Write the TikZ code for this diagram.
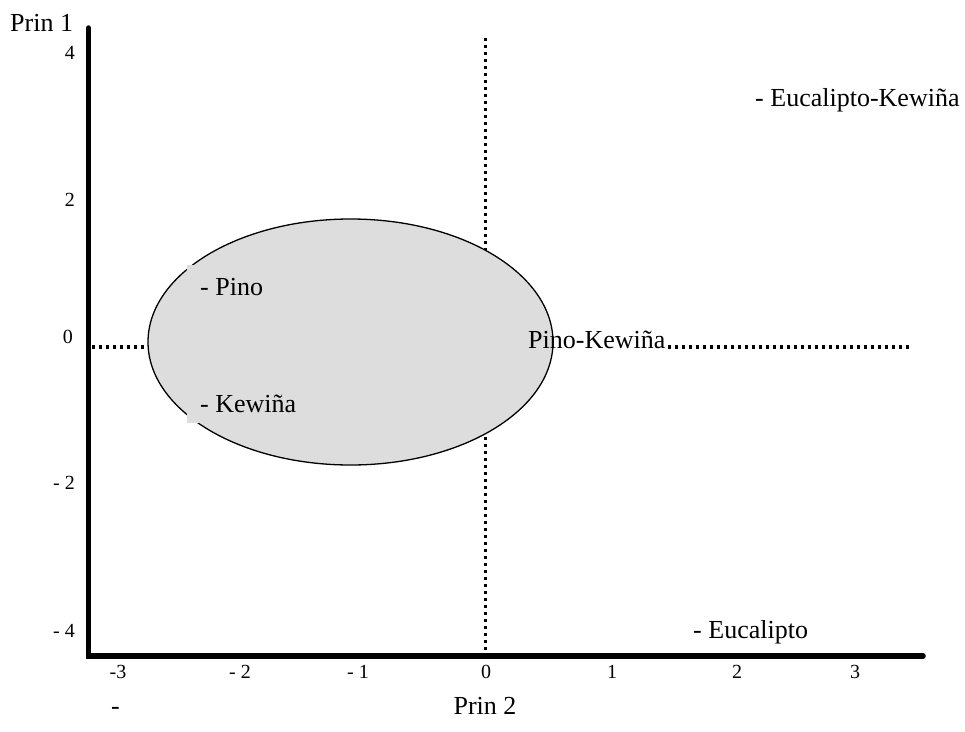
\documentclass[tikz,border=0pt]{standalone}
\usepackage{fontspec}
\setmainfont{Liberation Serif}
\usetikzlibrary{shapes.geometric}
\begin{document}
\begin{tikzpicture}[x=1pt,y=-1pt,
  axisline/.style={line width=5.5pt, line cap=round},
  guide/.style={line width=3.4pt, dash pattern=on 3.4pt off 3.6pt},
  lbl/.style={inner sep=0pt, anchor=base west, font=\fontsize{26}{28}\selectfont},
  ytick/.style={inner sep=0pt, anchor=base east, font=\fontsize{20}{22}\selectfont},
  xtick/.style={inner sep=0pt, anchor=base, font=\fontsize{20}{22}\selectfont}]
\definecolor{cluster}{RGB}{221,221,221}
\useasboundingbox (0,0) rectangle (965,731);

% key points of the frame
\coordinate (o) at (88.5,656);
\coordinate (ytop) at (88.5,28);
\coordinate (xend) at (923,656);
\coordinate (vtop) at (485.5,38);
\coordinate (vbot) at (485.5,650);
\coordinate (hleft) at (92,347);
\coordinate (hright) at (910,347);

% dotted zero lines
\draw[guide] (vtop) -- (vbot);
\draw[guide] (hleft) -- (160,347);

% grouped cluster
\node[draw=black, line width=1.3pt, fill=cluster, ellipse, minimum width=405pt, minimum height=246pt, inner sep=0pt] (grp) at (350.5,342) {};
\fill[cluster] (187,265) rectangle (300,423);

% label on the horizontal zero line
\node[lbl] (pk) at (528,348) {Pino-Kewiña};
\draw[guide] (pk.east |- hright) ++(2,0) -- (hright);

% axes
\draw[axisline] (ytop) -- (o) -- (xend);

% axis titles
\node[lbl] (p1) at (10,31) {Prin 1};
\node[lbl, anchor=base] (p2) at (485,714) {Prin 2};
\node[lbl] (dash) at (111,714) {-};

% vertical axis ticks
\node[ytick] (y4) at (75,59) {4};
\node[ytick] (y2) at (75,206) {2};
\node[ytick] (y0) at (73,343) {0};
\node[ytick] (ym2) at (75,489) {- 2};
\node[ytick] (ym4) at (75,637) {- 4};

% horizontal axis ticks
\node[xtick] (xm3) at (118,678) {-3};
\node[xtick] (xm2) at (240,678) {- 2};
\node[xtick] (xm1) at (358,678) {- 1};
\node[xtick] (x0) at (486,678) {0};
\node[xtick] (x1) at (612,678) {1};
\node[xtick] (x2) at (737,678) {2};
\node[xtick] (x3) at (855,678) {3};

% point labels
\node[lbl] (pino) at (200,295) {- Pino};
\node[lbl] (kew) at (200,412) {- Kewiña};
\node[lbl] (euc) at (693,638) {- Eucalipto};
\node[lbl] (euk) at (755,106) {- Eucalipto-Kewiña};
\end{tikzpicture}
\end{document}
